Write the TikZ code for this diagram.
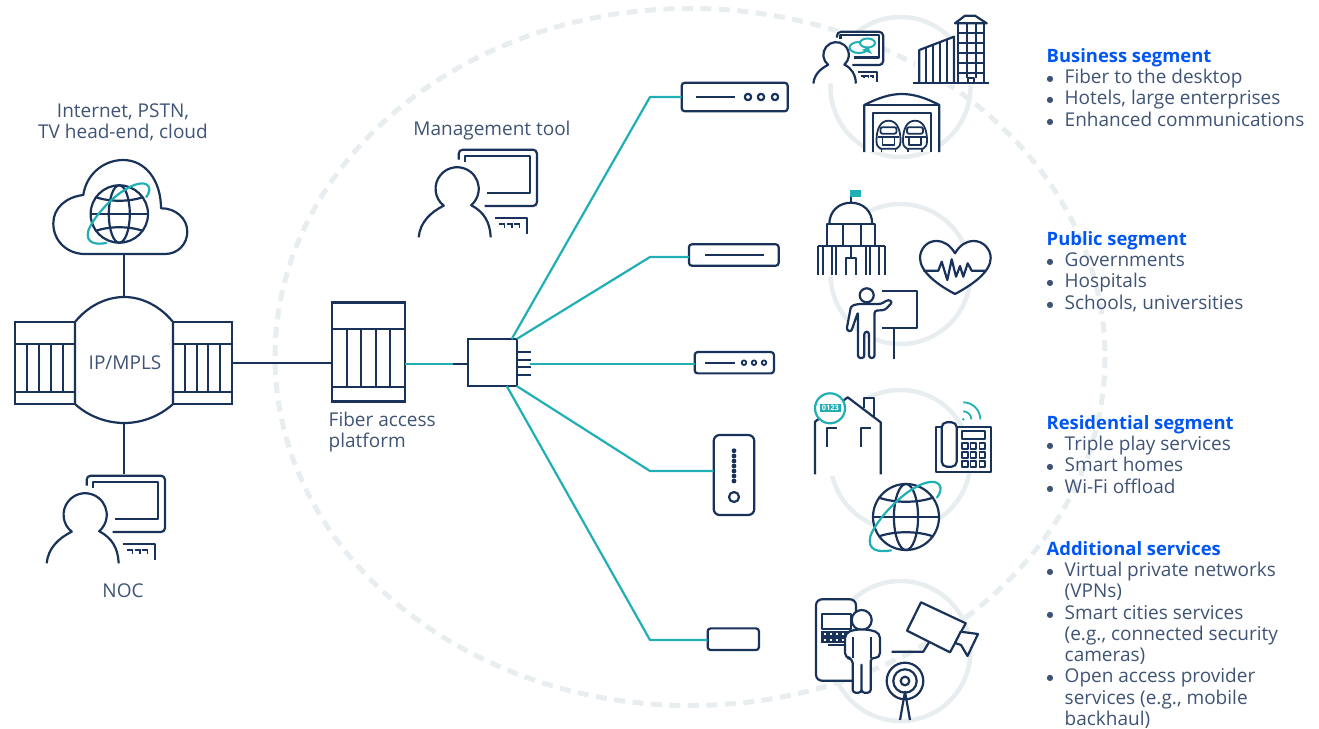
\documentclass[tikz,border=0pt]{standalone}
\usepackage{fontspec}
\setmainfont{Open Sans}
\newfontfamily\bulfont{DejaVu Sans}
\usetikzlibrary{calc}
\definecolor{navy}{HTML}{18325A}
\definecolor{slate}{HTML}{3F5474}
\definecolor{fiber}{HTML}{1FAFB5}
\definecolor{halo}{HTML}{E8EDF0}
\definecolor{segblue}{HTML}{0055F5}
\newcommand{\seghead}[1]{{\fontsize{18.4}{21.3}\selectfont\color{segblue}\bfseries #1}}
\newcommand{\bul}{\makebox[18pt][l]{\raisebox{2pt}{\bulfont\fontsize{8}{21.3}\selectfont ●}}}
\newcommand{\nobul}{\makebox[18pt][l]{}}
\tikzset{
  wire/.style={draw=navy,line width=2.2pt,line join=round},
  globe/.pic={
    \draw[wire,fill=white] (0,0) circle [radius=28.7];
    \draw[wire] (0,0) circle [x radius=10.5,y radius=28.7];
    \draw[wire] (-28.7,0) -- (28.7,0);
    \draw[wire] (-24,-17) .. controls (-10,-12) and (10,-12) .. (24,-17);
    \draw[wire] (-24,17) .. controls (-10,12) and (10,12) .. (24,17);
    \draw[draw=fiber,line width=2.2pt,line cap=round] (-13,29) .. controls (-24,31) and (-34,29) .. (-31,17)
      .. controls (-28,6) and (-8,-17) .. (7,-25) .. controls (15,-30) and (25,-33) .. (29,-28)
      .. controls (31,-25) and (30,-21) .. (27,-17);
  },
  workstation/.pic={
    \fill[white] (-1,-41) rectangle (81,18);
    \draw[wire,rounded corners=4] (1.7,-29.3) -- (1.7,-39.3) -- (80,-39.3) -- (80,17) -- (27.7,17);
    \draw[wire] (7.7,-27) -- (7.7,-33.3) -- (73.3,-33.3) -- (73.3,4.3) -- (30,4.3);
    \draw[wire,fill=white] (-38.3,48.3) .. controls (-37,33) and (-26,23) .. (-13.3,16.7)
      arc [start angle=128.5,end angle=409.4,radius=21.6]
      .. controls (27,23) and (33,33) .. (33.7,48.3);
    \draw[wire] (37.7,29.3) -- (70,29.3) -- (70,45);
    \foreach \k in {42,49.5,57}
      \draw[navy,line width=1.8pt] (\k,35) -- ++(5.5,0) -- ++(0,4);
  },
  train/.pic={
    \draw[wire,line width=1.8pt,fill=white] (-8,28) .. controls (-11,27) and (-12,24) .. (-12,20)
      .. controls (-12,8) and (-8,0) .. (0,0) .. controls (8,0) and (12,8) .. (12,20)
      .. controls (12,24) and (11,27) .. (8,28) -- cycle;
    \draw[wire,line width=1.8pt,rounded corners=2] (-8,6.5) rectangle (8,13);
    \draw[wire,line width=1.8pt] (-10.5,16.5) -- (10.5,16.5) (-6,16.5) -- (-6,24) -- (6,24) -- (6,16.5);
    \draw[wire,line width=1.8pt] (-7,28) -- (-7,31.5) (7,28) -- (7,31.5);
  }
}
\begin{document}
\begin{tikzpicture}[x=1pt,y=-1pt,font=\fontsize{19}{21.3}\selectfont,text=slate]

    % `rackbox' is used by the three chassis.
    % `unit' is used by the boxes at the end of the fibers.
    % `fiberline' is used by all of the teal connections.
    \tikzstyle{rackbox} = [draw=navy,line width=2.2pt,fill=white,outer sep=0pt,inner sep=0pt]
    \tikzstyle{unit} = [draw=navy,line width=2.2pt,fill=white,rounded corners=3,outer sep=0pt,inner sep=0pt]
    \tikzstyle{fiberline} = [draw=fiber,line width=2.2pt,line join=round]
    \tikzstyle{trunk} = [draw=navy,line width=2.2pt]
    \tikzstyle{ring} = [draw=halo,line width=4.5pt]
    \tikzstyle{label} = [inner sep=0pt,align=center]
    \tikzstyle{segment} = [anchor=north west,inner sep=0pt,align=left]
    %
    \useasboundingbox (0,0) rectangle (1319,728);

    % Rings behind the icons.
    \draw[draw=halo,line width=5pt,dash pattern=on 11pt off 7.5pt] (690,357) circle [x radius=415,y radius=348.5];
    \foreach \cy in {87,274,460,651}
        \draw[ring] (900.5,\cy) circle [radius=70];

    % Network side.
    \node[rackbox,minimum width=60,minimum height=82] (edgeL) at (45,363) {};
    \node[rackbox,minimum width=59,minimum height=82] (edgeR) at (202.5,363) {};
    \node[rackbox,minimum width=73,minimum height=99] (olt) at (368.7,352) {};
    \draw[trunk] (15,344) -- (75,344) (15,392) -- (75,392);
    \draw[trunk] (173,344) -- (232,344) (173,392) -- (232,392);
    \draw[trunk] (332.3,329.3) -- (405,329.3) (332.3,387.3) -- (405,387.3);
    \foreach \x in {27,39,51,63,185,197,208,220}
        \draw[trunk] (\x,344) -- (\x,392);
    \foreach \x in {346.7,361,376,390}
        \draw[trunk] (\x,329.3) -- (\x,387.3);

    \node[inner sep=0pt,minimum width=98,minimum height=126] (mpls) at (124.3,360) {};
    \draw[wire,fill=white] (75,322) .. controls (88,306) and (106,297) .. (124.3,297)
        .. controls (142,297) and (160,306) .. (173,322) -- (173,404)
        .. controls (160,416) and (142,423) .. (124.3,423)
        .. controls (106,423) and (88,416) .. (75,404) -- cycle;
    \node[label] (mplstext) at (125,362.5) {IP/MPLS};

    \coordinate (cloudbase) at (124.3,254);
    \coordinate (nocscreen) at (124.3,475.7);
    \draw[trunk] (cloudbase) -- (mpls.north);
    \draw[trunk] (mpls.south) -- (nocscreen);
    \draw[trunk] (edgeR.east) -- (olt.west |- edgeR.east);
    \draw[wire] (85,254) -- (165,254) .. controls (178,254) and (187.3,244) .. (187.3,231.7)
        .. controls (187.3,218) and (175,208) .. (161,208.3) .. controls (161,180) and (145,160) .. (123.3,160)
        .. controls (103,160) and (86,175) .. (83.3,195) .. controls (66,197) and (53.3,208) .. (53.3,223.3)
        .. controls (53.3,241) and (67,254) .. (85,254) -- cycle;
    \pic (cloudglobe) at (119.3,214) {globe};
    \pic (noc) at (85,515) {workstation};
    \pic (mgmt) at (457,189) {workstation};

    \node[label] (cloudtext) at (123,122.5) {Internet, PSTN,\\TV head-end, cloud};
    \node[label] (noctext) at (123,591) {NOC};
    \node[label] (mgmttext) at (492,131) {Management tool};
    \node[label,align=left,anchor=north west] (olttext) at (328.5,412) {Fiber access\\platform};

    % Splitter and its fibers.
    \node[rackbox,minimum width=49,minimum height=47] (splitter) at (492.2,362.5) {};
    \node[unit,minimum width=106,minimum height=28.5] (ont1) at (734.7,97) {};
    \node[unit,minimum width=89.7,minimum height=21.5] (ont2) at (733.8,255) {};
    \node[unit,minimum width=79.3,minimum height=21.3] (ont3) at (734.3,362.7) {};
    \node[unit,minimum width=40.6,minimum height=80,rounded corners=6] (ont4) at (734,475) {};
    \node[unit,minimum width=51.3,minimum height=21.7] (ont5) at (733.3,639.2) {};
    \coordinate (bend1) at (650,97);
    \coordinate (bend2) at (650,257);
    \coordinate (bend4) at (650,471);
    \coordinate (bend5) at (650,640);
    \coordinate (stubL) at (453,364);

    \draw[fiberline] (olt.east |- stubL) -- (stubL);
    \draw[trunk,line width=2.6pt] (stubL) -- (stubL -| splitter.west);
    \draw[fiberline] ($(splitter.north east)+(-5,0)$) -- (bend1) -- (ont1.west);
    \draw[fiberline] (splitter.north east) -- (bend2) -- (ont2.west |- bend2);
    \draw[fiberline] (530,364) -- (ont3.west |- 530,364);
    \draw[fiberline] (splitter.south east) -- (bend4) -- (ont4.west |- bend4);
    \draw[fiberline] ($(splitter.south east)+(-10,0)$) -- (bend5) -- (ont5.west |- bend5);
    \foreach \y in {351.7,359.7,367.3,375}
        \draw[trunk] (splitter.east |- 0,\y) -- ++(14,0);

    % Unit details.
    \draw[trunk] (695.7,97) -- (735,97) (705,255) -- (763.5,255) (705,362.7) -- (735,362.7);
    \foreach \x in {748,761,775}
        \draw[wire] (\x,97) circle [radius=3.2];
    \foreach \x in {744,754,764}
        \draw[wire,line width=1.8pt] (\x,362.7) circle [radius=2.3];
    \foreach \y in {450.7,456,461,466,471,476,481}
        \fill[navy] (734,\y) circle [radius=2.4];
    \draw[wire] (734,497) circle [radius=5];

    % Business icons.
    \pic[scale=0.59] (bizdesk) at (836,55) {workstation};
    \draw[draw=fiber,line width=2pt,fill=white] (859,47.5) circle [x radius=9.5,y radius=5.5];
    \draw[draw=fiber,line width=2pt,fill=white] (867.5,43) circle [x radius=7.5,y radius=4.5];
    \fill[fiber] (862,50) -- (872,54) -- (868,47) -- cycle;
    \fill[white] (917,52) -- (957,36) -- (957,16) -- (987,16) -- (987,85) -- (912,85) -- cycle;
    \draw[wire] (912.7,83.3) -- (989.3,83.3);
    \draw[wire] (919.3,83.3) -- (919.3,50) -- (954,36.7) -- (954,83.3);
    \foreach \x/\y in {926/47.5,933/45,940/42,947/39.5}
        \draw[wire,line width=1.8pt] (\x,\y) -- (\x,83.3);
    \draw[wire] (957.7,83.3) -- (957.7,23) (984,23) -- (984,83.3);
    \draw[wire] (955,23.3) -- (965,15.7) -- (975,15.7) -- (986.7,23.3) -- cycle;
    \foreach \y in {33,43,53,63,73}
        \draw[wire,line width=1.8pt] (957.7,\y) -- (984,\y);
    \draw[wire,line width=1.8pt] (966.7,23) -- (966.7,78) (975.7,23) -- (975.7,78) (968,83) -- (968,78) -- (974,78) -- (974,83);
    \fill[white] (864,105) rectangle (939.3,152);
    \draw[wire] (864.3,152) -- (864.3,105) .. controls (878,98) and (890,94) .. (901.7,94) .. controls (914,94) and (926,98) .. (939.3,105) -- (939.3,152);
    \draw[wire] (864.3,105) -- (939.3,105);
    \draw[wire] (873,152) -- (873,112.7) -- (930.7,112.7) -- (930.7,152);
    \pic (trainA) at (888.5,120.7) {train};
    \pic (trainB) at (915,120.7) {train};

    % Public icons.
    \fill[fiber] (850,190) rectangle (861,197);
    \draw[wire] (851,197) -- (851,203);
    \fill[white] (815,246) rectangle (887,277);
    \draw[wire,fill=white] (829.3,224.3) .. controls (829.3,211) and (839,202.7) .. (851,202.7)
        .. controls (863,202.7) and (872.3,211) .. (872.3,224.3) -- cycle;
    \draw[wire,fill=white] (826.7,224.3) rectangle (875.3,245.7);
    \draw[wire] (842.7,224.3) -- (842.7,245.7) (860.7,224.3) -- (860.7,245.7);
    \draw[wire] (817.7,246) -- (885,246);
    \foreach \x in {817.7,823.3,831.7,836,865.7,870,879.3,885}
        \draw[wire] (\x,246) -- (\x,275);
    \draw[wire] (846,275) -- (846,258.3) -- (856,258.3) -- (856,275) (851,246) -- (851,258.3);
    \draw[wire,fill=white] (955,253.3) .. controls (950,245) and (944,241) .. (936,241)
        .. controls (927,241) and (920,249) .. (920,258) .. controls (920,272) and (938,285) .. (955,294)
        .. controls (972,285) and (990.7,272) .. (990.7,258) .. controls (990.7,249) and (983,241) .. (974,241)
        .. controls (966,241) and (960,245) .. (955,253.3) -- cycle;
    \draw[wire] (923.3,270.7) -- (938.3,270.7) -- (941.7,261.7) -- (947.3,280) -- (951.7,259.3) -- (956,276.7)
        -- (960,266) -- (963.3,276.7) -- (967.7,263.3) -- (971.7,270.7) -- (985,270.7);
    \fill[white] (882,290) rectangle (917,328);
    \draw[wire] (882,290.7) -- (916.7,290.7) -- (916.7,328) -- (882,328);
    \draw[wire] (894,328) -- (894,359.3);
    \draw[wire,fill=white] (866.7,295.3) circle [radius=7];
    \draw[wire,fill=white,rounded corners=2.5] (858,304) -- (851,306) -- (846.5,330) -- (851,332)
        -- (858,312) -- (858,358) -- (864.3,358) -- (864.3,331.7) -- (869,331.7) -- (869,358) -- (874.5,358)
        -- (874.5,310.7) -- (885,310) -- (892.5,302) -- (888.5,299.5) -- (881,304) -- cycle;

    % Residential icons.
    \fill[white] (812,397) rectangle (883,476);
    \draw[wire] (815,474.3) -- (815,421.7) -- (847.7,397.3) -- (880.7,422.3) -- (880.7,474.3);
    \draw[wire] (864,408) -- (864,398.3) -- (874,398.3) -- (874,416.7);
    \draw[wire] (827.3,446.7) -- (827.3,428.3) -- (837.3,428.3);
    \draw[wire] (860.7,446.7) -- (860.7,428.3) -- (870.7,428.3);
    \draw[draw=fiber,line width=2.2pt,fill=white] (830,408.3) circle [radius=15];
    \node[fill=fiber,text=white,font=\fontsize{7.5}{8}\selectfont\bfseries,minimum width=21,minimum height=8,inner sep=0pt] (meter) at (830.3,408.3) {0123};
    \draw[wire,fill=white] (936,426.7) rectangle (990.7,471.7);
    \draw[wire,fill=white,rounded corners=5] (941.7,422.3) rectangle (956.7,466.7);
    \draw[wire,line width=1.8pt] (961.7,431) rectangle (985,439);
    \foreach \y in {446,455,464}
        \foreach \x in {965,973.3,982.3}
            \draw[wire,line width=1.8pt] (\x-2.8,\y-2.8) rectangle (\x+2.8,\y+2.8);
    \fill[fiber] (963.3,419.3) circle [radius=1.3];
    \draw[draw=fiber,line width=1.8pt] (963.3,411.3) .. controls (967.7,411.3) and (971.3,415) .. (971.3,419.3);
    \draw[draw=fiber,line width=1.8pt] (963.3,402.3) .. controls (972.7,402.3) and (980.3,410) .. (980.3,419.3);
    \pic[scale=1.15] (webglobe) at (906,517) {globe};

    % Additional service icons.
    \draw[wire,fill=white,rounded corners=6] (857,680.7) -- (816,680.7) -- (816,599.3) -- (856,599.3) -- (856,625);
    \draw[wire] (821.7,614) rectangle (850.7,629.3);
    \fill[navy] (821,631) rectangle (848,642.5);
    \foreach \x in {823.5,829.5,835.5,841.5}
        \foreach \y in {633,638.5}
            \fill[white] (\x,\y) rectangle ++(2.6,2.4);
    \draw[wire] (828,645) -- (846,645);
    \draw[wire,fill=white] (861.7,620) circle [radius=10];
    \draw[wire,fill=white,rounded corners=5] (855,629.5) -- (845,633) -- (845,658) -- (852.7,658)
        [rounded corners=3] -- (852.7,692.7) -- (861.5,692.7) -- (861.5,663) -- (861.5,692.7) -- (870.7,692.7) -- (870.7,658)
        [rounded corners=5] -- (880,658) -- (880,633) -- (868.5,629.5) -- cycle;
    \draw[wire] (852.7,637) -- (852.7,658) (870.7,637) -- (870.7,658);
    \draw[wire,fill=white] (921,602.3) -- (965.7,623.3) -- (950,652.3) -- (907,630.7) -- cycle;
    \draw[wire,fill=white] (960.7,631.7) -- (978,634) -- (967.5,656) -- (961,645) -- (955,643) -- cycle;
    \draw[wire] (891.7,651.7) -- (923.3,651.7) -- (929,642.3);
    \foreach \r in {18.3,11.7,4.3}
        \draw[wire,fill=white] (905,681) circle [radius=\r];
    \draw[wire] (900,720) -- (905,691.7) -- (910,720);

    % Segment lists.
    \node[segment] (business) at (1046.5,48) {\seghead{Business segment}\\
        \bul Fiber to the desktop\\\bul Hotels, large enterprises\\\bul Enhanced communications};
    \node[segment] (public) at (1046.5,231) {\seghead{Public segment}\\
        \bul Governments\\\bul Hospitals\\\bul Schools, universities};
    \node[segment] (residential) at (1046.5,415) {\seghead{Residential segment}\\
        \bul Triple play services\\\bul Smart homes\\\bul Wi-Fi offload};
    \node[segment] (additional) at (1046.5,541) {\seghead{Additional services}\\
        \bul Virtual private networks\\\nobul (VPNs)\\\bul Smart cities services\\\nobul (e.g., connected security\\\nobul cameras)\\\bul Open access provider\\\nobul services (e.g., mobile\\\nobul backhaul)};
    %
\end{tikzpicture}
\end{document}
